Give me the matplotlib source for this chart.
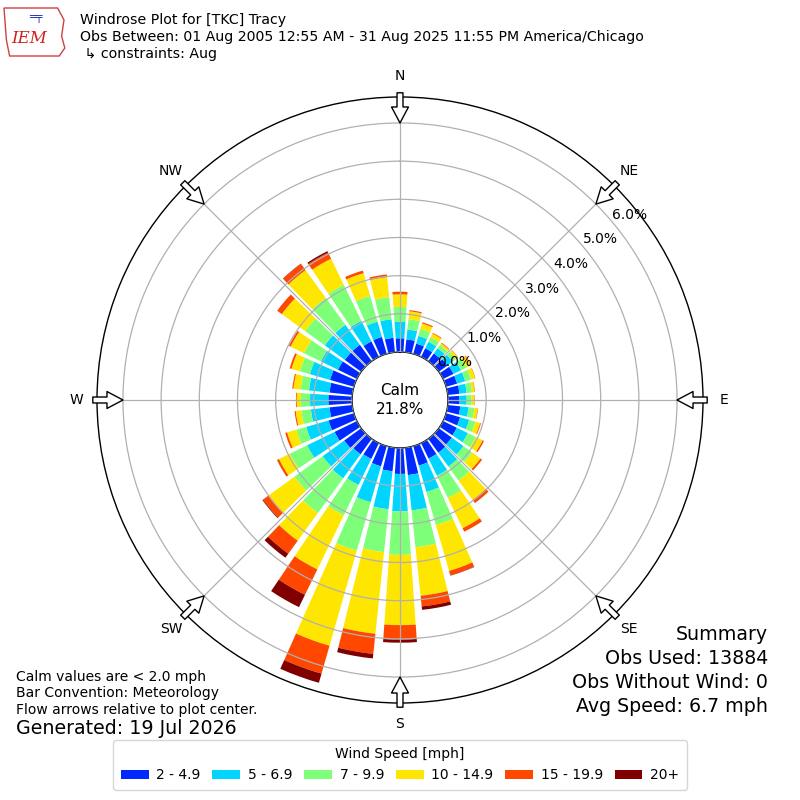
import numpy as np
import matplotlib.pyplot as plt
from matplotlib.patches import Patch, Polygon

# Данные: частота (%) по направлениям (0..350 через 10 градусов) для каждого диапазона скорости
directions = np.arange(0, 360, 10)
speed_labels = ['2 - 4.9', '5 - 6.9', '7 - 9.9', '10 - 14.9', '15 - 19.9', '20+']

speed_2_5 = [0.36, 0.34, 0.28, 0.25, 0.25, 0.28, 0.30, 0.30, 0.31, 0.30, 0.33, 0.38,
             0.40, 0.42, 0.45, 0.45, 0.53, 0.72, 0.68, 0.62, 0.55, 0.46, 0.50, 0.55,
             0.65, 0.69, 0.60, 0.62, 0.60, 0.65, 0.55, 0.53, 0.53, 0.45, 0.46, 0.38]
speed_5_7 = [0.43, 0.26, 0.21, 0.19, 0.17, 0.17, 0.22, 0.22, 0.19, 0.19, 0.22, 0.25,
             0.32, 0.38, 0.45, 0.50, 0.72, 0.93, 0.98, 1.00, 0.98, 0.76, 0.78, 0.70,
             0.80, 0.61, 0.49, 0.48, 0.54, 0.55, 0.50, 0.65, 0.65, 0.60, 0.42, 0.49]
speed_7_10 = [0.39, 0.27, 0.19, 0.13, 0.10, 0.10, 0.16, 0.16, 0.14, 0.13, 0.15, 0.17,
              0.23, 0.28, 0.45, 0.65, 0.90, 0.97, 1.14, 1.13, 1.32, 0.88, 1.12, 0.91,
              0.50, 0.27, 0.25, 0.24, 0.22, 0.27, 0.49, 0.64, 0.87, 1.05, 0.70, 0.58]
speed_10_15 = [0.33, 0.21, 0.15, 0.11, 0.06, 0.07, 0.12, 0.11, 0.07, 0.07, 0.09, 0.13,
               0.20, 0.27, 0.63, 0.88, 1.25, 1.28, 1.84, 2.15, 2.59, 1.58, 0.90, 0.84,
               0.32, 0.25, 0.15, 0.11, 0.19, 0.23, 0.39, 0.75, 0.90, 0.76, 0.62, 0.53]
speed_15_20 = [0.07, 0.03, 0.03, 0.02, 0.02, 0.01, 0.02, 0.01, 0.01, 0.01, 0.01, 0.02,
               0.04, 0.05, 0.10, 0.10, 0.12, 0.28, 0.38, 0.53, 0.76, 0.74, 0.42, 0.18,
               0.06, 0.05, 0.03, 0.02, 0.03, 0.05, 0.05, 0.15, 0.20, 0.18, 0.07, 0.07]
speed_20 = [0.00, 0.00, 0.00, 0.00, 0.00, 0.00, 0.00, 0.00, 0.00, 0.00, 0.00, 0.00,
            0.00, 0.00, 0.00, 0.00, 0.01, 0.09, 0.08, 0.12, 0.25, 0.36, 0.13, 0.02,
            0.00, 0.00, 0.00, 0.00, 0.00, 0.00, 0.00, 0.00, 0.01, 0.04, 0.00, 0.00]

speed_bins = [speed_2_5, speed_5_7, speed_7_10, speed_10_15, speed_15_20, speed_20]

ring_values = [0, 1, 2, 3, 4, 5, 6]
compass_angles = [0, 45, 90, 135, 180, 225, 270, 315]
compass_labels = ['N', 'NE', 'E', 'SE', 'S', 'SW', 'W', 'NW']

calm_text = 'Calm\n21.8%'
title_lines = ['Windrose Plot for [TKC] Tracy',
               'Obs Between: 01 Aug 2005 12:55 AM - 31 Aug 2025 11:55 PM America/Chicago',
               ' \u21b3 constraints: Aug']
notes = ['Calm values are < 2.0 mph', 'Bar Convention: Meteorology',
         'Flow arrows relative to plot center.']
generated = 'Generated: 19 Jul 2026'
summary = ['Summary', 'Obs Used: 13884', 'Obs Without Wind: 0', 'Avg Speed: 6.7 mph']

# Фигура и полярная ось
fig = plt.figure(figsize=(8, 8), dpi=100)
ax = fig.add_axes([0.12125, 0.12125, 0.7575, 0.7575], projection='polar')
ax.set_theta_zero_location('N')
ax.set_theta_direction(-1)
r_max = 6.68
ax.set_ylim(0, r_max)
ax.set_rorigin(-1.257)

# Столбцы
theta = np.deg2rad(directions)
colors = plt.cm.jet(np.linspace(0, 1, 7)[1:])
bottom = np.zeros(len(directions))
for vals, color in zip(speed_bins, colors):
    ax.bar(theta, vals, width=np.deg2rad(8), bottom=bottom, color=color,
           linewidth=0, align='center', zorder=1)
    bottom = bottom + np.array(vals)

# Сетка и подписи
ax.set_axisbelow(False)
ax.set_rgrids(ring_values, labels=[f'{v:.1f}%' for v in ring_values], angle=50)
ax.set_thetagrids(compass_angles, labels=compass_labels)
ax.grid(color='#b0b0b0', linewidth=0.9)
ax.tick_params(axis='x', pad=4.5, labelsize=10)
ax.tick_params(axis='y', labelsize=10)
ax.spines['polar'].set_color('black')
ax.spines['polar'].set_linewidth(1.0)
ax.spines['inner'].set_color('black')
ax.spines['inner'].set_linewidth(1.0)
for lab in ax.get_yticklabels():
    lab.set_zorder(5)

# Стрелки направлений
for ang in compass_angles:
    t = np.deg2rad(ang)
    ax.annotate('', xy=(t, 6.0), xytext=(t, 6.79), annotation_clip=False,
                arrowprops=dict(arrowstyle='simple,head_length=1.15,head_width=1.22,tail_width=0.43',
                                fc='white', ec='black', lw=1, shrinkA=0, shrinkB=0,
                                mutation_scale=10))

fig.text(0.5, 0.5, calm_text, ha='center', va='center', fontsize=11, linespacing=1.3)

# Логотип
logo = Polygon([(0.005, 0.99), (0.072, 0.99), (0.08, 0.975), (0.077, 0.955),
                (0.081, 0.94), (0.074, 0.93), (0.012, 0.93), (0.008, 0.95)],
               closed=True, transform=fig.transFigure, fill=False, edgecolor='#d04040', lw=1)
fig.add_artist(logo)
fig.text(0.037, 0.952, 'IEM', ha='center', va='center', color='#d02020',
         fontsize=12, style='italic', family='DejaVu Serif')
fig.text(0.045, 0.978, '\u2550\u2564', ha='center', va='center', color='#2030c0', fontsize=8)

# Заголовок
for i, line in enumerate(title_lines):
    fig.text(0.1, 1 - (20 + 17 * i) / 800, line, ha='left', va='center', fontsize=10.15)

# Примечания снизу слева
for i, line in enumerate(notes):
    fig.text(0.02, 1 - (677 + 16.5 * i) / 800, line, ha='left', va='center', fontsize=10)
fig.text(0.02, 1 - 729 / 800, generated, ha='left', va='center', fontsize=13.7)

# Сводка справа
for i, line in enumerate(summary):
    fig.text(0.96, 1 - (635 + 23.7 * i) / 800, line, ha='right', va='center', fontsize=13.7)

# Легенда
handles = [Patch(facecolor=c) for c in colors]
fig.legend(handles, speed_labels, ncol=6, loc='lower center', bbox_to_anchor=(0.5, 0.0125),
           title='Wind Speed [mph]', fontsize=10, title_fontsize=10, borderpad=0.55,
           handletextpad=0.55, columnspacing=0.85, borderaxespad=0)

fig.savefig('out.png', dpi=100)
